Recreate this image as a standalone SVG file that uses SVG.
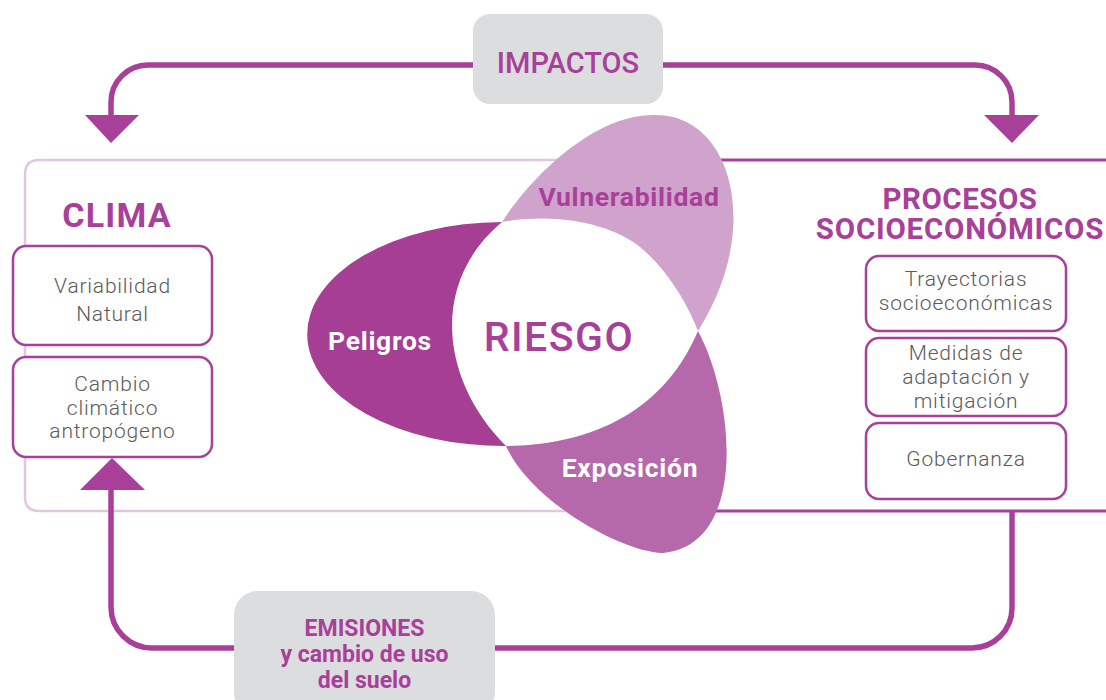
<svg xmlns="http://www.w3.org/2000/svg" width="1106" height="700" viewBox="0 0 1106 700">
<defs>
<style>
.conn{fill:none;stroke:#a8409a;stroke-width:5.5;}
.arrow{fill:#a8409a;}
.gbox{fill:#dcdddf;}
.box{fill:#ffffff;stroke:#a8409a;stroke-width:2.5;}
.t{font-family:Roboto,"Liberation Sans",sans-serif;text-anchor:middle;}
.head{font-weight:700;fill:#a8409a;}
.item{font-weight:300;fill:#5a5a5a;font-size:21px;letter-spacing:0.8px;}
.petal{font-weight:700;font-size:26.5px;letter-spacing:0.7px;}
</style>
</defs>
<rect width="1106" height="700" fill="#ffffff"/>

<g id="panel-clima">
<path d="M 600 160 H 39 Q 25 160 25 174 V 497 Q 25 511 39 511 H 600" fill="none" stroke="#e2c6e0" stroke-width="2.5"/>
</g>
<g id="panel-procesos">
<path d="M 640 160 H 1110 M 640 511 H 1110" fill="none" stroke="#a8409a" stroke-width="3"/>
</g>

<g id="connectors">
<path class="conn" d="M 480 65 H 148 A 37 37 0 0 0 111 102 V 118"/>
<polygon class="arrow" points="85,115 139,115 111,143"/>
<path class="conn" d="M 656 65 H 975 A 37 37 0 0 1 1012 102 V 118"/>
<polygon class="arrow" points="984,115 1039,115 1012,143"/>
<path class="conn" d="M 1012 511 V 608 A 40 40 0 0 1 972 648 H 152 A 41 41 0 0 1 111 607 V 486"/>
<polygon class="arrow" points="80,490 145,490 112,458"/>
</g>

<g id="impactos">
<rect class="gbox" x="473" y="14" width="190" height="90" rx="17"/>
<text class="t" x="568" y="73" font-size="29" font-weight="500" fill="#a8409a">IMPACTOS</text>
</g>

<g id="emisiones">
<rect class="gbox" x="234" y="591" width="261" height="125" rx="24"/>
<text class="t head" x="364.5" y="636" font-size="23">EMISIONES</text>
<text class="t head" x="364.5" y="662" font-size="23">y cambio de uso</text>
<text class="t head" x="364.5" y="688" font-size="23">del suelo</text>
</g>

<g id="clima">
<text class="t head" x="117" y="227" font-size="34" letter-spacing="1.2">CLIMA</text>
</g>
<g id="variabilidad">
<rect class="box" x="13" y="246" width="199" height="99" rx="13"/>
<text class="t item" x="112.5" y="293">Variabilidad</text>
<text class="t item" x="112.5" y="321">Natural</text>
</g>
<g id="cambio">
<rect class="box" x="13" y="357" width="199" height="100" rx="13"/>
<text class="t item" x="112.5" y="391">Cambio</text>
<text class="t item" x="112.5" y="415">climático</text>
<text class="t item" x="112.5" y="438">antropógeno</text>
</g>

<g id="procesos">
<text class="t head" x="960" y="209" font-size="29.5" letter-spacing="0.5">PROCESOS</text>
<text class="t head" x="960" y="239" font-size="29.5" letter-spacing="0.8">SOCIOECONÓMICOS</text>
</g>
<g id="trayectorias">
<rect class="box" x="866" y="256" width="200" height="75" rx="13"/>
<text class="t item" x="966" y="286">Trayectorias</text>
<text class="t item" x="966" y="310">socioeconómicas</text>
</g>
<g id="medidas">
<rect class="box" x="866" y="338" width="200" height="78" rx="13"/>
<text class="t item" x="966" y="360">Medidas de</text>
<text class="t item" x="966" y="384">adaptación y</text>
<text class="t item" x="966" y="408">mitigación</text>
</g>
<g id="gobernanza">
<rect class="box" x="866" y="423" width="200" height="76" rx="13"/>
<text class="t item" x="966" y="466">Gobernanza</text>
</g>

<g id="riesgo">
<path d="M 502 222 C 540 165 600 115 653 115 C 730 112 765 225 698 331 C 688 305 668 270 640 247 C 612 225 560 212 502 222 Z" fill="#cfa3cc"/>
<path d="M 502 222 A 195 111 0 0 0 506 446 C 442 382 428 284 502 222 Z" fill="#a63e94"/>
<path d="M 698 331 C 735 400 748 545 663 553 C 620 552 530 500 506 446 C 580 445 660 420 698 331 Z" fill="#b569aa"/>
<text class="t petal" x="629" y="206" fill="#a8409a">Vulnerabilidad</text>
<text class="t petal" x="380" y="350" fill="#ffffff">Peligros</text>
<text class="t petal" x="630" y="477" fill="#ffffff">Exposición</text>
<text class="t" x="559" y="351" font-size="41" font-weight="500" letter-spacing="1.5" fill="#a8409a">RIESGO</text>
</g>
</svg>
